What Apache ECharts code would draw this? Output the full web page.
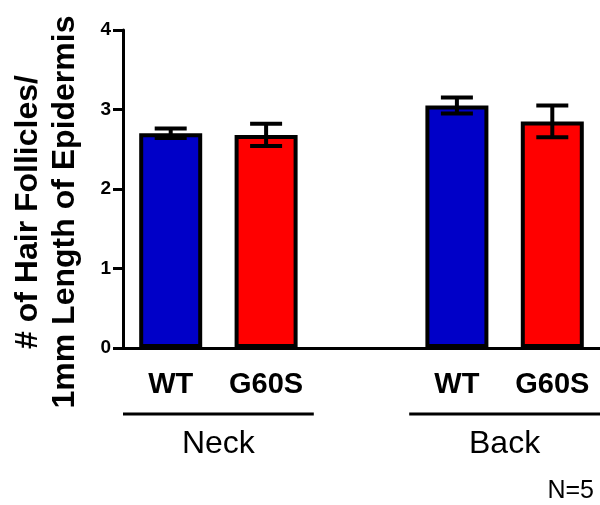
<!DOCTYPE html>
<html>
<head>
<meta charset="utf-8">
<script src="https://cdn.jsdelivr.net/npm/echarts@6/dist/echarts.min.js"></script>
<style>
  html, body { margin: 0; padding: 0; background: #fff; }
  #chart { width: 600px; height: 505px; }
</style>
</head>
<body>
<div id="chart"></div>
<script>
const categories = ['WT', 'G60S', '', 'WT', 'G60S']
const means = [2.70, 2.68, null, 3.05, 2.85]
const sems = [0.06, 0.14, null, 0.10, 0.20]
const yTicks = [0, 1, 2, 3, 4]
const groupNames = ['Neck', 'Back']
const groupFrom = [0, 3]
const groupTo = [1, 4]
const footnote = 'N=5'

const FONT = '"Liberation Sans", Arial, sans-serif'
const BLUE = '#0000c8'
const RED = '#ff0000'

const colorFor = (name) => (name === 'WT' ? BLUE : RED)

const barData = means.map((v, i) =>
  v == null ? '-' : { value: v, itemStyle: { color: colorFor(categories[i]) } }
)

const errData = []
means.forEach((m, i) => {
  if (m != null) errData.push([i, m - sems[i], m + sems[i]])
})

const chart = echarts.init(document.getElementById('chart'))

const option = {
  animation: false,
  grid: { left: 123, right: 0, top: 30, bottom: 157 },
  xAxis: {
    type: 'category',
    data: categories,
    axisLine: { lineStyle: { color: '#000', width: 3 } },
    axisTick: { alignWithLabel: true, length: 9, lineStyle: { color: '#000', width: 3 } },
    axisLabel: {
      interval: 0,
      color: '#000', fontFamily: FONT, fontWeight: 'bold', fontSize: 29, margin: 22
    }
  },
  yAxis: {
    type: 'value',
    min: yTicks[0],
    max: yTicks[yTicks.length - 1],
    interval: 1,
    splitLine: { show: false },
    axisLine: { show: true, lineStyle: { color: '#000', width: 3 } },
    axisTick: { show: true, length: 10, lineStyle: { color: '#000', width: 3 } },
    axisLabel: {
      color: '#000', fontFamily: FONT, fontWeight: 'bold', fontSize: 19, margin: 12
    }
  },
  series: [
    {
      type: 'bar',
      data: barData,
      barWidth: 63,
      itemStyle: { borderColor: '#000', borderWidth: 4 }
    },
    {
      type: 'custom',
      data: errData,
      encode: { x: 0, y: [1, 2] },
      z: 5,
      renderItem: (params, api) => {
        const x = api.value(0)
        const lo = api.coord([x, api.value(1)])
        const hi = api.coord([x, api.value(2)])
        const half = 16
        const style = { stroke: '#000', lineWidth: 4 }
        return {
          type: 'group',
          children: [
            { type: 'line', shape: { x1: lo[0], y1: lo[1], x2: hi[0], y2: hi[1] }, style },
            { type: 'line', shape: { x1: hi[0] - half, y1: hi[1], x2: hi[0] + half, y2: hi[1] }, style },
            { type: 'line', shape: { x1: lo[0] - half, y1: lo[1], x2: lo[0] + half, y2: lo[1] }, style }
          ]
        }
      }
    }
  ]
}

chart.setOption(option)

// group brackets under the x labels, placed through the axis scale
const px = (i) => chart.convertToPixel({ xAxisIndex: 0 }, i)
const step = px(1) - px(0)
const graphics = []
groupNames.forEach((name, g) => {
  const x1 = px(groupFrom[g]) - step / 2
  const x2 = Math.min(px(groupTo[g]) + step / 2, 600)
  graphics.push({
    type: 'line',
    shape: { x1, y1: 414, x2, y2: 414 },
    style: { stroke: '#000', lineWidth: 3 }
  })
  graphics.push({
    type: 'text',
    x: (px(groupFrom[g]) + px(groupTo[g])) / 2,
    y: 444,
    style: {
      text: name, fill: '#000', font: '32px ' + FONT,
      textAlign: 'center', textVerticalAlign: 'middle'
    }
  })
})

graphics.push({
  type: 'text',
  x: 594,
  y: 491,
  style: {
    text: footnote, fill: '#000', font: '25px ' + FONT,
    textAlign: 'right', textVerticalAlign: 'middle'
  }
})

// two-line y axis title
graphics.push({
  type: 'text',
  x: 28,
  y: 212,
  rotation: Math.PI / 2,
  style: {
    text: '# of Hair Follicles/', fill: '#000', font: 'bold 32px ' + FONT,
    textAlign: 'center', textVerticalAlign: 'middle'
  }
})
graphics.push({
  type: 'text',
  x: 65,
  y: 212,
  rotation: Math.PI / 2,
  style: {
    text: '1mm Length of Epidermis', fill: '#000', font: 'bold 32px ' + FONT,
    textAlign: 'center', textVerticalAlign: 'middle'
  }
})

chart.setOption({ graphic: graphics })
</script>
</body>
</html>
